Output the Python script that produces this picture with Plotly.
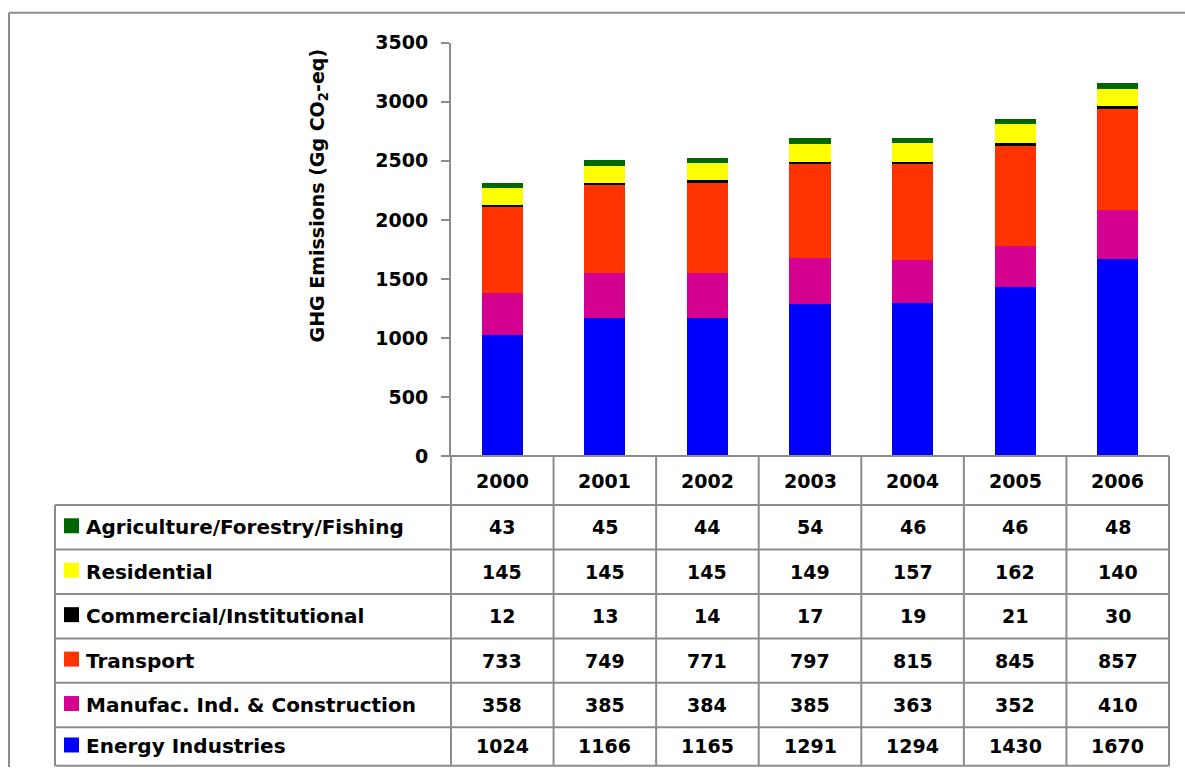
import plotly.graph_objects as go

W, H = 1185, 778

years = ["2000", "2001", "2002", "2003", "2004", "2005", "2006"]

# table order (top to bottom)
sectors = [
    "Agriculture/Forestry/Fishing",
    "Residential",
    "Commercial/Institutional",
    "Transport",
    "Manufac. Ind. & Construction",
    "Energy Industries",
]
agriculture = [43, 45, 44, 54, 46, 46, 48]
residential = [145, 145, 145, 149, 157, 162, 140]
commercial = [12, 13, 14, 17, 19, 21, 30]
transport = [733, 749, 771, 797, 815, 845, 857]
manufac = [358, 385, 384, 385, 363, 352, 410]
energy = [1024, 1166, 1165, 1291, 1294, 1430, 1670]
values = [agriculture, residential, commercial, transport, manufac, energy]
colors = ["#006600", "#FFFF00", "#000000", "#FF3300", "#D4008F", "#0000FF"]

FONT = "DejaVu Sans"
FS = 19
GRID = "#8c8c8c"


def px(x):
    return x / W


def py(y):
    # vertical pixel -> paper, corrected for the small vertical squeeze seen in the snapshot
    y = (y - 10.3) / 0.973
    return 1 - y / H


# pixel geometry of the plot/table
ax_left, ax_right = 451, 1169
y_zero, y_top = 456, 42
tbl_left = 55
row_edges = [505, 549.5, 594, 638.5, 683, 727.5, 766]
col_w = (ax_right - ax_left) / len(years)

fig = go.Figure()

# stack bottom-up
for name, vals, col in reversed(list(zip(sectors, values, colors))):
    fig.add_trace(
        go.Bar(
            x=years,
            y=vals,
            name=name,
            marker=dict(color=col, line=dict(width=0)),
            showlegend=False,
        )
    )

shapes = []
line = dict(color=GRID, width=2)
# outer frame
shapes.append(dict(type="line", xref="paper", yref="paper", x0=px(9), x1=1, y0=py(12), y1=py(12), line=line))
shapes.append(dict(type="line", xref="paper", yref="paper", x0=px(9), x1=px(9), y0=py(12), y1=0, line=line))
# category axis line
shapes.append(dict(type="line", xref="paper", yref="paper", x0=px(443), x1=px(ax_right), y0=py(y_zero), y1=py(y_zero), line=line))
# column separators (header + data)
for k in range(len(years) + 1):
    xx = ax_left + k * col_w
    shapes.append(dict(type="line", xref="paper", yref="paper", x0=px(xx), x1=px(xx), y0=py(y_zero), y1=py(row_edges[-1]), line=line))
# row lines
for ry in row_edges:
    shapes.append(dict(type="line", xref="paper", yref="paper", x0=px(tbl_left), x1=px(ax_right), y0=py(ry), y1=py(ry), line=line))
shapes.append(dict(type="line", xref="paper", yref="paper", x0=px(tbl_left), x1=px(tbl_left), y0=py(row_edges[0]), y1=py(row_edges[-1]), line=line))

cell_font = dict(size=FS, color="black", family=FONT, weight="bold")
label_font = dict(size=20, color="black", family=FONT, weight="bold")
annotations = []
# header years
for j, yr in enumerate(years):
    annotations.append(dict(x=j, xref="x", y=py((y_zero + row_edges[0]) / 2), yref="paper",
                            xanchor="center", yanchor="middle",
                            text=yr, showarrow=False, font=cell_font))

for i, (name, vals, col) in enumerate(zip(sectors, values, colors)):
    cy = (row_edges[i] + row_edges[i + 1]) / 2
    # legend key
    shapes.append(dict(type="rect", xref="paper", yref="paper", x0=px(64), x1=px(79),
                       y0=py(cy - 9), y1=py(cy + 6), fillcolor=col, line=dict(width=0)))
    annotations.append(dict(x=px(84), xref="paper", y=py(cy), yref="paper", xanchor="left", yanchor="middle",
                            text=name, showarrow=False, font=label_font))
    for j, v in enumerate(vals):
        annotations.append(dict(x=j, xref="x", y=py(cy), yref="paper", xanchor="center", yanchor="middle",
                                text=str(v), showarrow=False, font=cell_font))

# y axis title
annotations.append(dict(x=px(318), xref="paper", y=py(195), yref="paper", textangle=-90,
                        xanchor="center", yanchor="middle",
                        text="GHG Emissions (Gg CO<sub>2</sub>-eq)", showarrow=False,
                        font=dict(size=19, color="black", family=FONT, weight="bold")))

fig.update_layout(
    width=W,
    height=H,
    margin=dict(l=0, r=0, t=0, b=0),
    barmode="stack",
    bargap=0.6,
    plot_bgcolor="white",
    paper_bgcolor="white",
    shapes=shapes,
    annotations=annotations,
    xaxis=dict(
        type="category",
        range=[-0.5, len(years) - 0.5],
        domain=[px(ax_left), px(ax_right)],
        showticklabels=False,
        showline=False,
        showgrid=False,
        zeroline=False,
    ),
    yaxis=dict(
        domain=[py(y_zero), py(y_top)],
        range=[0, 3500],
        dtick=500,
        showgrid=False,
        zeroline=False,
        showline=True,
        linecolor=GRID,
        linewidth=2,
        ticks="outside",
        ticklen=8,
        tickcolor=GRID,
        tickwidth=2,
        ticklabelstandoff=9,
        tickfont=dict(size=FS, color="black", family=FONT, weight="bold"),
    ),
)

# pin the graph to the top-left of the page
pin = (
    "document.body.style.margin='0';"
    "document.body.style.overflow='hidden';"
    "var d=document.getElementById('{plot_id}');"
    "d.style.position='fixed';d.style.left='0';d.style.top='0';"
)
fig.write_html("out.html", config={"displayModeBar": False}, post_script=pin)
